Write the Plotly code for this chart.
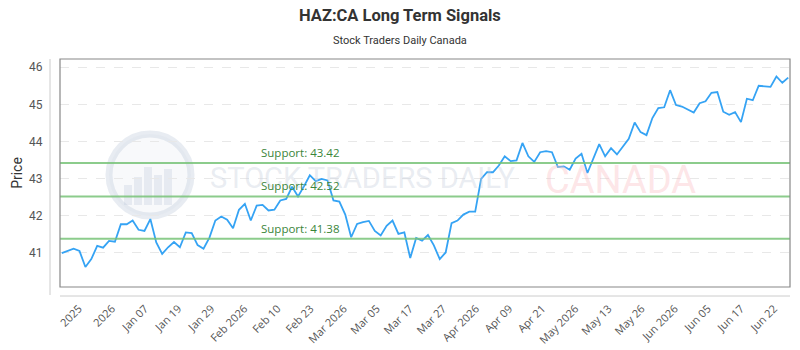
import plotly.graph_objects as go

# ---- data ----
prices = [
    40.99, 41.06, 41.11, 41.05, 40.62, 40.83, 41.19, 41.14, 41.32, 41.30,
    41.77, 41.77, 41.87, 41.62, 41.59, 41.91, 41.28, 40.97, 41.15, 41.29,
    41.15, 41.55, 41.53, 41.21, 41.11, 41.41, 41.87, 41.98, 41.89, 41.66,
    42.16, 42.32, 41.87, 42.27, 42.29, 42.14, 42.16, 42.41, 42.45, 42.78,
    42.52, 42.79, 43.09, 42.93, 42.99, 42.95, 42.41, 42.38, 42.03, 41.42,
    41.78, 41.83, 41.86, 41.59, 41.47, 41.73, 41.87, 41.51, 41.55, 40.86,
    41.40, 41.33, 41.48, 41.20, 40.83, 41.01, 41.80, 41.87, 42.03, 42.11,
    42.11, 42.99, 43.17, 43.17, 43.35, 43.60, 43.47, 43.49, 43.96, 43.60,
    43.45, 43.71, 43.74, 43.71, 43.31, 43.33, 43.24, 43.54, 43.67, 43.15,
    43.53, 43.93, 43.60, 43.82, 43.65, 43.86, 44.07, 44.51, 44.25, 44.17,
    44.63, 44.90, 44.92, 45.38, 44.98, 44.94, 44.86, 44.78, 45.03, 45.08,
    45.31, 45.33, 44.80, 44.72, 44.79, 44.52, 45.15, 45.11, 45.50, 45.48,
    45.47, 45.75, 45.58, 45.72,
]
tick_labels = ["2025", "2026", "Jan 07", "Jan 19", "Jan 29", "Feb 2026", "Feb 10",
               "Feb 23", "Mar 2026", "Mar 05", "Mar 17", "Mar 27", "Apr 2026",
               "Apr 09", "Apr 21", "May 2026", "May 13", "May 26", "Jun 2026",
               "Jun 05", "Jun 17", "Jun 22"]
support_levels = [43.42, 42.52, 41.38]
title_text = "HAZ:CA Long Term Signals"
subtitle_text = "Stock Traders Daily Canada"

n = len(prices)
xs = list(range(n))

# tick positions spread evenly along the category index range
t0, t1 = 2.9, 120.6
tick_pos = [t0 + i * (t1 - t0) / (len(tick_labels) - 1) for i in range(len(tick_labels))]

fig = go.Figure()
fig.add_trace(go.Scatter(x=xs, y=prices, mode="lines",
                         line=dict(color="#35a3f4", width=1.8),
                         hoverinfo="skip", showlegend=False))

# plot geometry (pixels)
L, R, T, B = 60, 10, 59, 63
W, H = 800 - L - R, 350 - T - B

def px2paper(x, y):
    return (x - L) / W, 1 - (y - T) / H

shapes = []
# watermark logo
cx, cy, rad = 150, 175, 41
x0p, y0p = px2paper(cx - rad, cy + rad)
x1p, y1p = px2paper(cx + rad, cy - rad)
shapes.append(dict(type="circle", xref="paper", yref="paper", x0=x0p, y0=y0p, x1=x1p, y1=y1p,
                   line=dict(color="rgba(190,200,218,0.35)", width=7),
                   fillcolor="rgba(215,222,235,0.18)", layer="below"))
for bx, bh in [(128, 20), (138, 28), (148, 38), (158, 30), (168, 36)]:
    a0, b0 = px2paper(bx - 4, 205)
    a1, b1 = px2paper(bx + 4, 205 - bh)
    shapes.append(dict(type="rect", xref="paper", yref="paper", x0=a0, y0=b0, x1=a1, y1=b1,
                       line=dict(width=0), fillcolor="rgba(190,200,218,0.3)", layer="below"))

# support lines
for lvl in support_levels:
    shapes.append(dict(type="line", xref="paper", yref="y", x0=0, x1=1, y0=lvl, y1=lvl,
                       line=dict(color="rgba(120,195,120,0.85)", width=2), layer="above"))
# plot frame
shapes.append(dict(type="rect", xref="paper", yref="paper", x0=0, y0=0, x1=1, y1=1,
                   line=dict(color="#888888", width=1.2), layer="above"))
# offset y-axis line
shapes.append(dict(type="line", xref="paper", yref="paper", x0=-10 / W, x1=-10 / W,
                   y0=-8 / H, y1=1, line=dict(color="#cccccc", width=1)))
# offset x-axis line
shapes.append(dict(type="line", xref="paper", yref="paper", x0=0, x1=1,
                   y0=-9 / H, y1=-9 / H, line=dict(color="#cccccc", width=1)))

annotations = [
    dict(text="<b>" + title_text + "</b>", xref="paper", yref="paper",
         x=(400 - L) / W, y=1 + (T - 15) / H, xanchor="center", yanchor="middle",
         showarrow=False, font=dict(family="Roboto", size=16.5, color="#333333")),
    dict(text=subtitle_text, xref="paper", yref="paper",
         x=(400 - L) / W, y=1 + (T - 40) / H, xanchor="center", yanchor="middle",
         showarrow=False, font=dict(family="Roboto", size=11, color="#333333")),
    dict(text="STOCK TRADERS DAILY", xref="paper", yref="paper",
         x=(362 - L) / W, y=1 - (178 - T) / H, xanchor="center", yanchor="middle",
         showarrow=False, font=dict(family="Roboto", size=29, color="rgba(200,208,222,0.4)")),
    dict(text="CANADA", xref="paper", yref="paper",
         x=(620 - L) / W, y=1 - (180 - T) / H, xanchor="center", yanchor="middle",
         showarrow=False, font=dict(family="Roboto", size=38, color="rgba(250,190,195,0.4)")),
]
for lvl in support_levels:
    annotations.append(dict(text=f"Support: {lvl:.2f}", xref="paper", yref="y",
                            x=(259 - L) / W, y=lvl, xanchor="left", yanchor="bottom",
                            yshift=1, showarrow=False,
                            font=dict(family="Open Sans", size=11.5, color="#3a853a")))

fig.update_layout(
    width=800, height=350,
    margin=dict(l=L, r=R, t=T, b=B, autoexpand=False),
    paper_bgcolor="white", plot_bgcolor="white",
    shapes=shapes, annotations=annotations,
    xaxis=dict(range=[-0.3, n - 1 + 0.3], tickvals=tick_pos, ticktext=tick_labels,
               tickangle=-45, showgrid=False, zeroline=False, showline=False,
               automargin=False,
               ticks="outside", ticklen=10, tickcolor="rgba(0,0,0,0)",
               tickfont=dict(family="Open Sans", size=11, color="#555555")),
    yaxis=dict(range=[40.08, 46.22], tickvals=[41, 42, 43, 44, 45, 46],
               showgrid=True, gridcolor="#e8e8e8", griddash="dash", gridwidth=1,
               zeroline=False, showline=False, automargin=False,
               ticks="outside", ticklen=14, tickcolor="rgba(0,0,0,0)",
               tickfont=dict(family="Roboto", size=12, color="#555555"),
               title=dict(text="Price", font=dict(family="Roboto", size=14, color="#333333"),
                          standoff=3)),
)

fig.write_html("out.html")
